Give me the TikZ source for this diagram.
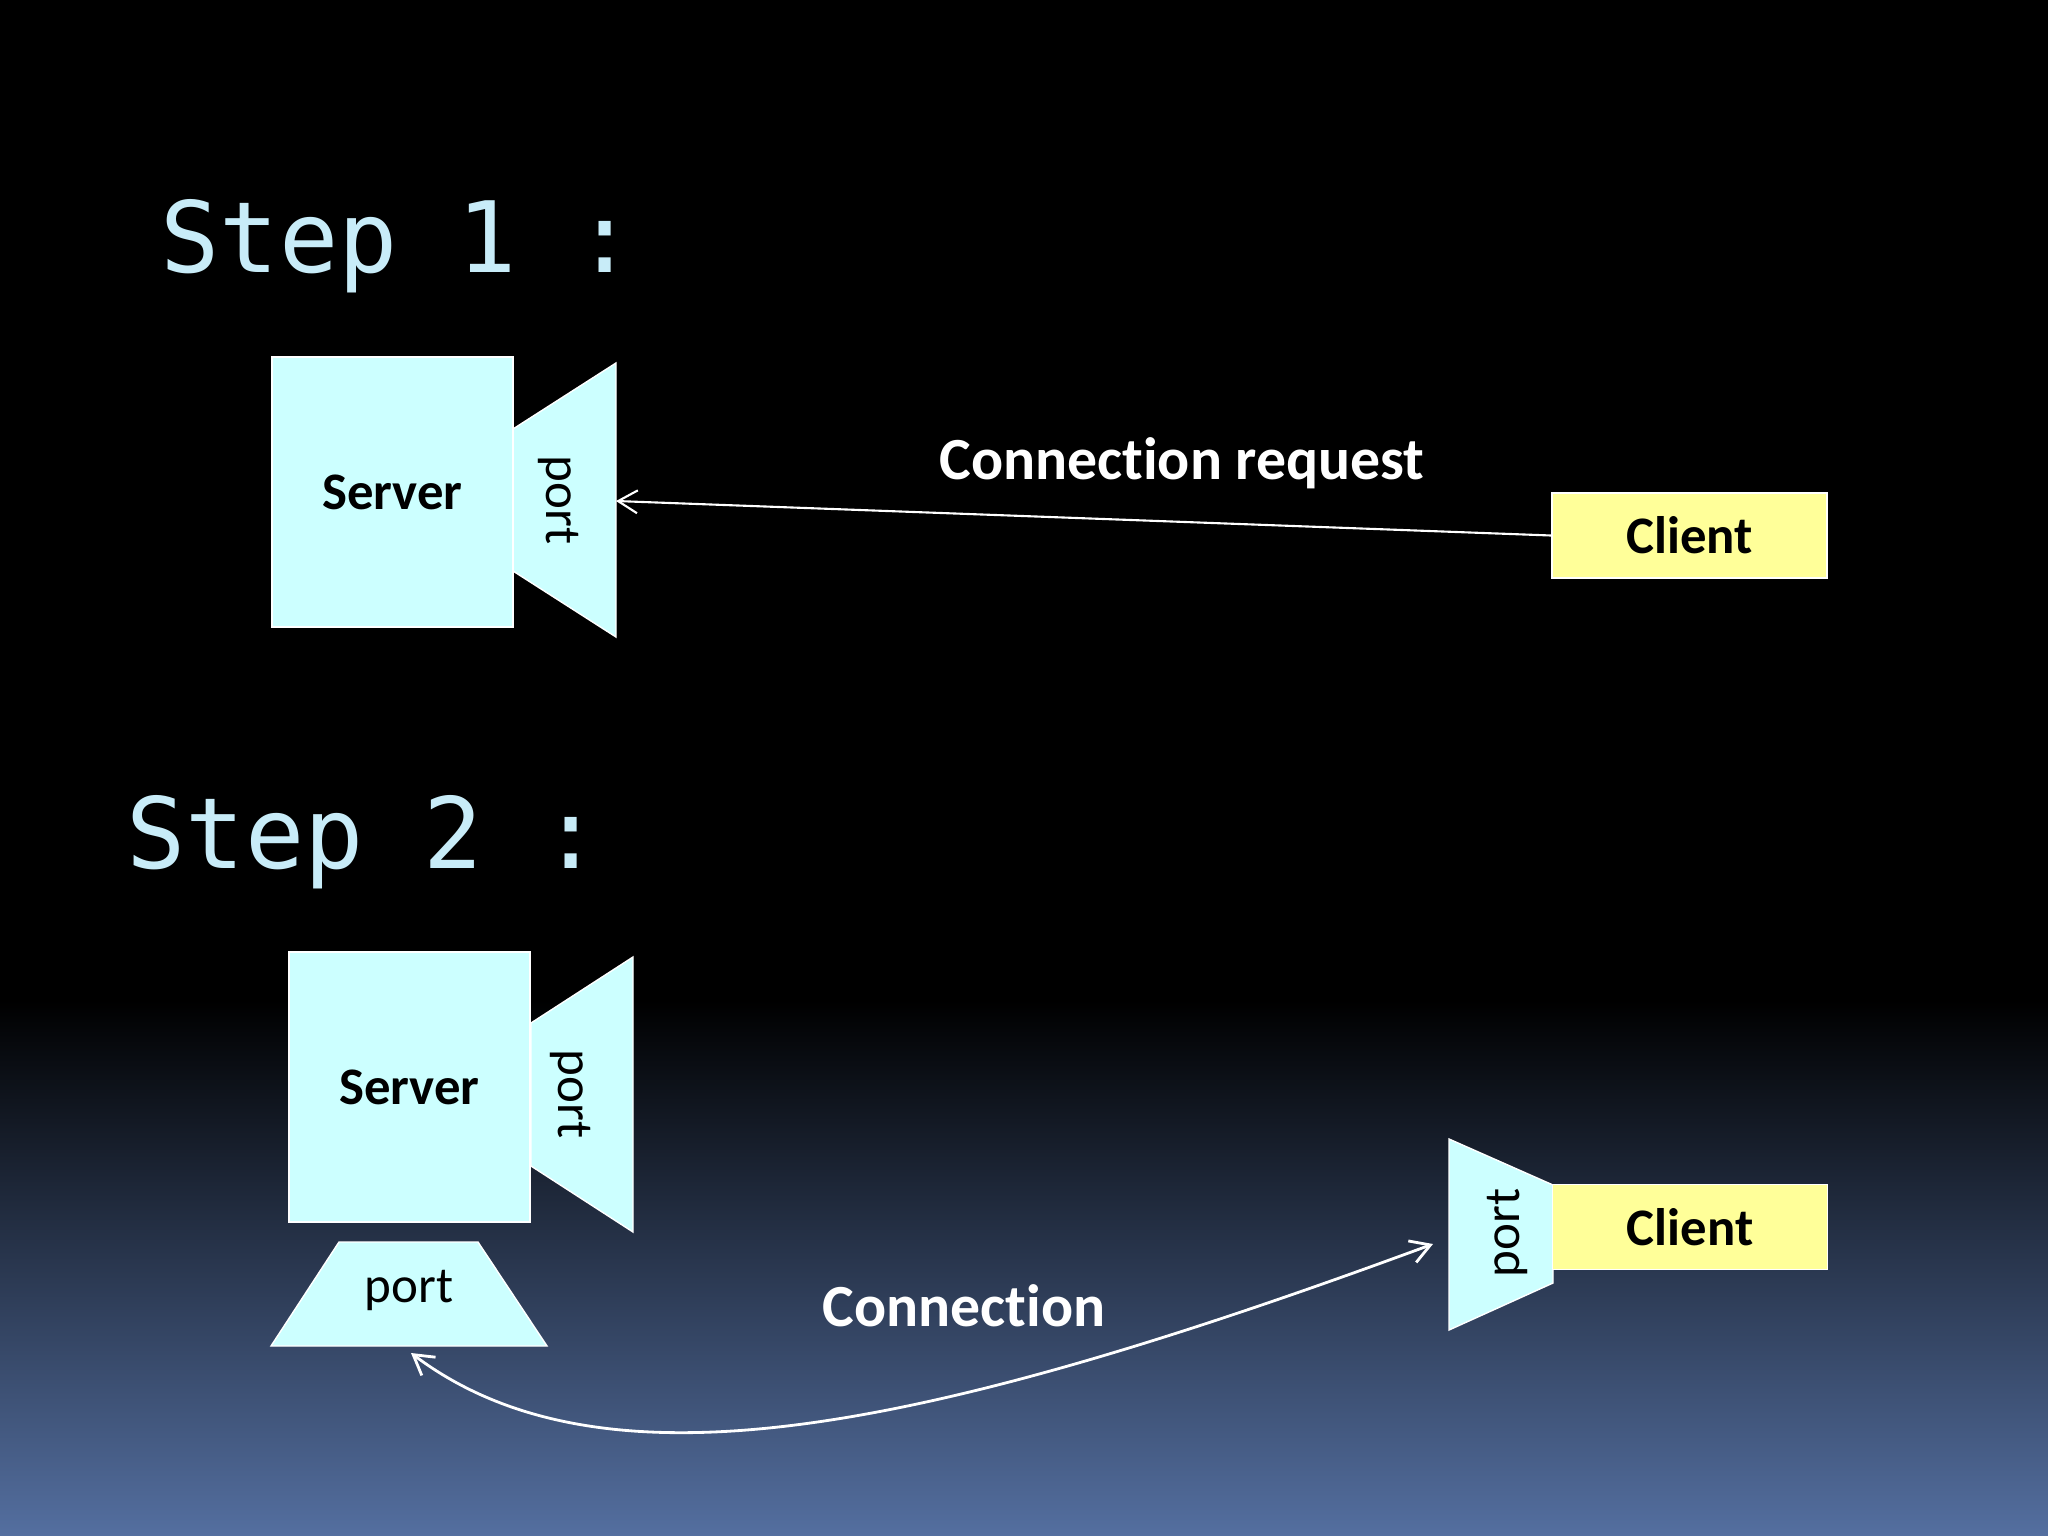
\documentclass[tikz,border=0pt]{standalone}
\usepackage{fontspec}
\setmainfont{Carlito}[Ligatures=NoCommon]
\newfontfamily\stepfont{DejaVu Sans Mono}
\usetikzlibrary{arrows.meta}
\definecolor{boxcyan}{RGB}{204,255,255}
\definecolor{boxyellow}{RGB}{255,255,153}
\definecolor{steptext}{RGB}{200,236,248}
\definecolor{bgblue}{RGB}{84,111,160}
\tikzset{
  srv/.style={draw=white,line width=0.4pt,fill=boxcyan,minimum width=2.41cm,minimum height=2.7cm,
    font=\fontsize{15}{18}\selectfont\bfseries},
  cli/.style={draw=white,line width=0.4pt,fill=boxyellow,minimum width=2.75cm,minimum height=0.85cm,
    font=\fontsize{15}{18}\selectfont\bfseries},
  prt/.style={draw=white,line width=0.4pt,fill=boxcyan},
  prtext/.style={inner sep=0pt,font=\fontsize{14.5}{17}\selectfont},
  steplbl/.style={anchor=base west,inner sep=0pt,text=steptext,font=\stepfont\fontsize{28}{34}\selectfont},
  lbl/.style={text=white,font=\fontsize{17}{20}\selectfont\bfseries},
  barb/.tip={Straight Barb[length=5.5pt,width=6.5pt]},
  link/.style={draw=white,line width=0.6pt}
}
\begin{document}
\begin{tikzpicture}[x=0.01cm,y=-0.01cm]
\useasboundingbox (0,0) rectangle (2048,1536);
\fill[black] (0,0) rectangle (2048,1536);
\shade[top color=black,bottom color=bgblue] (0,1000) rectangle (2048,1536);
% step 1
\node[steplbl] (st1) at (160,272) {Step 1 :};
\draw[prt] (513,429) -- (616,363) -- (616,637) -- (513,571) -- cycle;
\node[prtext,rotate=-90] (pt1) at (559,500) {port};
\coordinate (p1tip) at (616,501);
\node[srv] (srv1) at (392.5,492) {Server};
\node[cli] (cl1) at (1689.5,535.5) {Client};
\node[lbl] (req) at (1182,463) {Connection request};
\draw[link,-barb] (cl1.west) -- (p1tip);
% step 2
\node[steplbl] (st2) at (126,868) {Step 2 :};
\draw[prt] (531,1023) -- (633,957) -- (633,1232) -- (531,1166) -- cycle;
\node[prtext,rotate=-90] (pt2) at (571,1094) {port};
\draw[prt] (339,1242) -- (478,1242) -- (547,1346) -- (271,1346) -- cycle;
\node[prtext] (pt3) at (409,1290) {port};
\coordinate (p3tip) at (411,1353);
\node[srv] (srv2) at (409.5,1087) {Server};
\draw[prt] (1449,1139) -- (1553,1185) -- (1553,1283) -- (1449,1330) -- cycle;
\node[prtext,rotate=90] (pt4) at (1507,1233) {port};
\coordinate (p4tip) at (1433,1244);
\node[cli] (cl2) at (1690,1227) {Client};
\node[lbl] (con) at (964,1306) {Connection};
\draw[link,line width=0.8pt,barb-barb] (p3tip) .. controls (601,1496) and (913,1436) .. (p4tip);
\end{tikzpicture}
\end{document}
